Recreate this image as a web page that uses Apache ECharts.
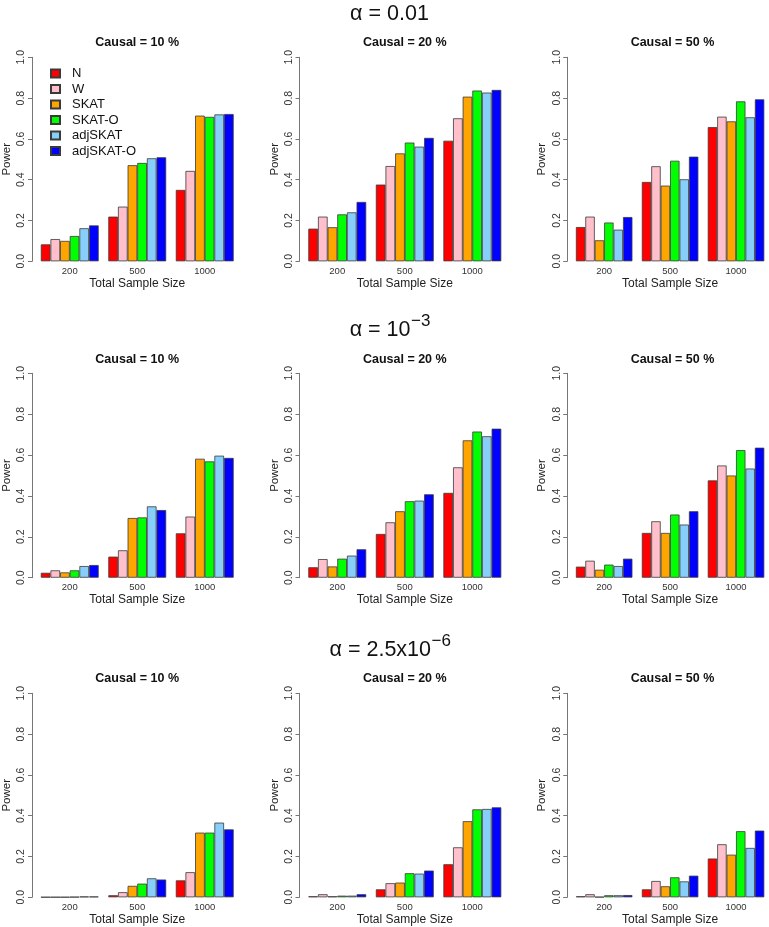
<!DOCTYPE html>
<html><head><meta charset="utf-8">
<script src="https://cdn.jsdelivr.net/npm/echarts@6/dist/echarts.min.js"></script>
<style>html,body{margin:0;padding:0;background:#fff}#c{width:769px;height:927px}</style>
</head><body><div id="c"></div>
<script>
// ---------------- DATA ----------------
const sampleSizes = ['200', '500', '1000'];
const methods = ['N', 'W', 'SKAT', 'SKAT-O', 'adjSKAT', 'adjSKAT-O'];
const causalLabels = ['Causal = 10 %', 'Causal = 20 %', 'Causal = 50 %'];
const yTickValues = [0, 0.2, 0.4, 0.6, 0.8, 1.0];

// rows follow `methods`, columns follow `sampleSizes`
// alpha = 0.01
const alpha01_causal10 = [
  [0.083, 0.219, 0.350], [0.109, 0.268, 0.443], [0.100, 0.471, 0.714],
  [0.124, 0.482, 0.708], [0.162, 0.505, 0.720], [0.176, 0.510, 0.722]
];
const alpha01_causal20 = [
  [0.160, 0.376, 0.591], [0.219, 0.467, 0.701], [0.167, 0.529, 0.807],
  [0.230, 0.582, 0.837], [0.240, 0.562, 0.827], [0.291, 0.605, 0.840]
];
const alpha01_causal50 = [
  [0.168, 0.389, 0.658], [0.219, 0.466, 0.709], [0.103, 0.371, 0.686],
  [0.190, 0.493, 0.784], [0.155, 0.402, 0.706], [0.217, 0.513, 0.794]
];
// alpha = 1e-3
const alpha1e3_causal10 = [
  [0.024, 0.103, 0.217], [0.036, 0.134, 0.299], [0.026, 0.292, 0.582],
  [0.036, 0.295, 0.569], [0.057, 0.349, 0.597], [0.062, 0.331, 0.586]
];
const alpha1e3_causal20 = [
  [0.051, 0.214, 0.415], [0.091, 0.271, 0.540], [0.055, 0.325, 0.672],
  [0.093, 0.374, 0.715], [0.108, 0.377, 0.692], [0.139, 0.408, 0.729]
];
const alpha1e3_causal50 = [
  [0.054, 0.219, 0.476], [0.083, 0.276, 0.549], [0.039, 0.219, 0.500],
  [0.064, 0.309, 0.624], [0.057, 0.260, 0.534], [0.093, 0.325, 0.636]
];
// alpha = 2.5e-6
const alpha25e6_causal10 = [
  [0.001, 0.010, 0.083], [0.001, 0.025, 0.123], [0.001, 0.056, 0.317],
  [0.002, 0.067, 0.317], [0.004, 0.093, 0.366], [0.004, 0.087, 0.333]
];
const alpha25e6_causal20 = [
  [0.005, 0.039, 0.162], [0.015, 0.069, 0.245], [0.005, 0.072, 0.373],
  [0.008, 0.118, 0.431], [0.008, 0.116, 0.433], [0.015, 0.131, 0.441]
];
const alpha25e6_causal50 = [
  [0.005, 0.039, 0.190], [0.015, 0.080, 0.260], [0.002, 0.054, 0.209],
  [0.010, 0.098, 0.324], [0.010, 0.078, 0.242], [0.011, 0.106, 0.327]
];

const panelData = [
  [alpha01_causal10, alpha01_causal20, alpha01_causal50],
  [alpha1e3_causal10, alpha1e3_causal20, alpha1e3_causal50],
  [alpha25e6_causal10, alpha25e6_causal20, alpha25e6_causal50]
];

// ---------------- STYLE / LAYOUT ----------------
const methodColors = ['#FF0000', '#FFC0CB', '#FFA500', '#00FF00', '#87CEFA', '#0000FF'];
const FONT = '"Liberation Sans", Arial, Helvetica, sans-serif';
const colLeft = [35.9, 303.5, 571.2];
const gridW = 202.6;
const rowTop = [57.3, 373.3, 693.3];
const gridH = [204, 204.4, 204];
const panelTitleY = [43, 360, 679];

const grids = [], xAxes = [], yAxes = [], series = [], graphics = [];
let idx = 0;
for (let r = 0; r < 3; r++) {
  for (let c = 0; c < 3; c++) {
    grids.push({ left: colLeft[c], top: rowTop[r], width: gridW, height: gridH[r], containLabel: false });
    xAxes.push({
      type: 'category', gridIndex: idx, data: sampleSizes,
      axisLine: { show: false }, axisTick: { show: false },
      axisLabel: { fontSize: 9.5, color: '#333', margin: 5, fontFamily: FONT },
      name: 'Total Sample Size', nameLocation: 'middle', nameGap: 16,
      nameTextStyle: { fontSize: 12, color: '#222', fontFamily: FONT }
    });
    yAxes.push({
      type: 'value', gridIndex: idx, min: 0, max: 1, interval: 0.2, offset: 4,
      axisLine: { show: true, lineStyle: { color: '#777', width: 1 } },
      axisTick: { show: true, length: 4, lineStyle: { color: '#777' } },
      splitLine: { show: false },
      axisLabel: {
        rotate: 90, margin: 5, fontSize: 10.5, color: '#333', fontFamily: FONT,
        formatter: v => yTickValues.some(t => Math.abs(t - v) < 1e-9) ? v.toFixed(1) : ''
      },
      name: 'Power', nameLocation: 'middle', nameGap: 19, nameRotate: 90,
      nameTextStyle: { fontSize: 11.5, color: '#222', fontFamily: FONT }
    });
    const data = panelData[r][c];
    methods.forEach((m, k) => {
      series.push({
        type: 'bar', name: m, xAxisIndex: idx, yAxisIndex: idx,
        data: data[k], barGap: '0%', barCategoryGap: '14.2857%',
        itemStyle: { color: methodColors[k], borderColor: '#3a3a3a', borderWidth: 0.8 },
        emphasis: { disabled: true }, silent: true
      });
    });
    graphics.push({
      type: 'text', x: colLeft[c] + gridW / 2, y: panelTitleY[r],
      style: { text: causalLabels[c], font: 'bold 12.5px ' + FONT, fill: '#111',
        align: 'center', verticalAlign: 'middle', textAlign: 'center', textVerticalAlign: 'middle' }
    });
    idx++;
  }
}

// row titles (alpha levels)
function txt(x, y, text, size, align) {
  return { type: 'text', x: x, y: y,
    style: { text: text, font: size + 'px ' + FONT, fill: '#111',
      align: align, verticalAlign: 'middle', textAlign: align, textVerticalAlign: 'middle' } };
}
graphics.push(txt(389.5, 14, 'α = 0.01', 21.5, 'center'));
graphics.push(txt(410.5, 330, 'α = 10', 21.5, 'right'));
graphics.push(txt(411, 321, '−3', 17, 'left'));
graphics.push(txt(431, 650, 'α = 2.5x10', 21.5, 'right'));
graphics.push(txt(431.5, 641, '−6', 17, 'left'));

const chart = echarts.init(document.getElementById('c'), null, { renderer: 'canvas' });
chart.setOption({
  animation: false,
  backgroundColor: '#fff',
  grid: grids, xAxis: xAxes, yAxis: yAxes, series: series,
  legend: {
    data: methods, orient: 'vertical', left: 45, top: 62,
    itemWidth: 9, itemHeight: 8, itemGap: 2.5, icon: 'rect',
    textStyle: { fontSize: 13, lineHeight: 13, color: '#111', fontFamily: FONT, padding: [0, 0, 0, 7] },
    selectedMode: false
  },
  graphic: graphics
});
</script></body></html>
